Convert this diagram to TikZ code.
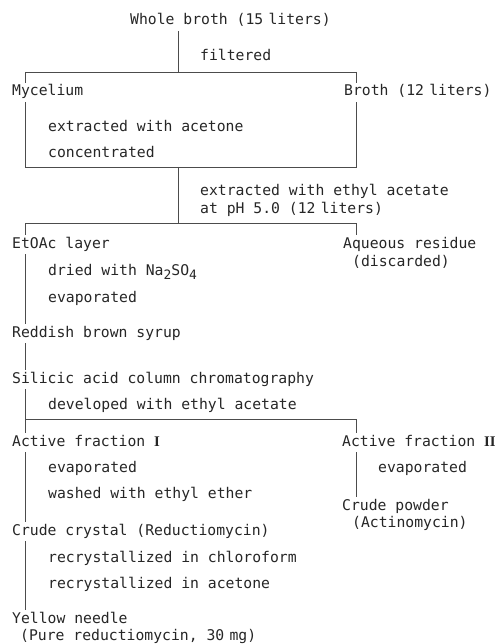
\documentclass[tikz,border=0pt]{standalone}
\usepackage{fontspec}
\setmonofont{DejaVu Sans Mono}
\newfontfamily\romfont{Liberation Serif}
\newcommand{\lowsub}[1]{\raisebox{-4bp}{\fontsize{13}{14}\selectfont #1}}
\newcommand{\romnum}[1]{{\romfont\bfseries #1}}
\tikzset{
  txt/.style={anchor=base west, inner xsep=0pt, inner ysep=2bp, text height=11bp, text depth=4bp,
    font=\ttfamily\fontsize{14.8}{16}\selectfont, text=black!85},
  conn/.style={draw=black!70, line width=0.7bp}
}
\begin{document}
\begin{tikzpicture}[x=1bp, y=-1bp]
\useasboundingbox (0,0) rectangle (500,644);
% spine coordinates
\coordinate (L) at (25,0);
\coordinate (R) at (356,0);
\coordinate (M) at (178,0);
\coordinate (h1) at (0,72);
\coordinate (b1) at (0,167);
\coordinate (h2) at (0,223);
\coordinate (h3) at (0,419);

\node[txt] (whole) at (130,25) {Whole broth (15\kern-0.25em{} liters)};
\node[txt] (filt) at (200,61) {filtered};
\node[txt] (myc) at (12,96) {Mycelium};
\node[txt] (broth) at (344,96) {Broth (12\kern-0.25em{} liters)};
\node[txt] (extac) at (48,132) {extracted with acetone};
\node[txt] (conc) at (48,158) {concentrated};
\node[txt] (exet) at (200,195) {extracted with ethyl acetate};
\node[txt] (ph) at (200,213) {at pH 5.0 (12\kern-0.25em{} liters)};
\node[txt] (etoac) at (12,248) {EtOAc layer};
\node[txt] (aq) at (343,248) {Aqueous residue};
\node[txt] (disc) at (352,266) {(discarded)};
\node[txt] (dried) at (48,275) {dried with Na\lowsub{2}SO\lowsub{4}};
\node[txt] (evapa) at (48,302) {evaporated};
\node[txt] (syrup) at (12,337) {Reddish brown syrup};
\node[txt] (sil) at (12,383) {Silicic acid column chromatography};
\node[txt] (dev) at (48,409) {developed with ethyl acetate};
\node[txt] (act1) at (12,446) {Active fraction \romnum{I}};
\node[txt] (act2) at (342,446) {Active fraction \romnum{II}};
\node[txt] (evapb) at (48,472) {evaporated};
\node[txt] (evapc) at (378,472) {evaporated};
\node[txt] (wash) at (48,498) {washed with ethyl ether};
\node[txt] (powder) at (342,510) {Crude powder};
\node[txt] (actino) at (352,527) {(Actinomycin)};
\node[txt] (cryst) at (12,535) {Crude crystal (Reductiomycin)};
\node[txt] (rechl) at (48,562) {recrystallized in chloroform};
\node[txt] (reac) at (48,588) {recrystallized in acetone};
\node[txt] (yellow) at (12,623) {Yellow needle};
\node[txt] (pure) at (20,640) {(Pure reductiomycin, 30\kern-0.25em{} mg)};

% connectors
\draw[conn] (whole.south -| M) -- (M |- h1);
\draw[conn] (L |- h1) -- (R |- h1);
\draw[conn] (L |- h1) -- (myc.north -| L);
\draw[conn] (R |- h1) -- (broth.north -| R);
\draw[conn] (myc.south -| L) -- (L |- b1) -- (R |- b1) -- (broth.south -| R);
\draw[conn] (M |- b1) -- (M |- h2);
\draw[conn] (L |- h2) -- (R |- h2);
\draw[conn] (L |- h2) -- (etoac.north -| L);
\draw[conn] (R |- h2) -- (aq.north -| R);
\draw[conn] (etoac.south -| L) -- (syrup.north -| L);
\draw[conn] (syrup.south -| L) -- (sil.north -| L);
\draw[conn] (sil.south -| L) -- (L |- h3);
\draw[conn] (L |- h3) -- (R |- h3);
\draw[conn] (L |- h3) -- (act1.north -| L);
\draw[conn] (R |- h3) -- (act2.north -| R);
\draw[conn] (act1.south -| L) -- (cryst.north -| L);
\draw[conn] (act2.south -| R) -- (powder.north -| R);
\draw[conn] (cryst.south -| L) -- (yellow.north -| L);
\end{tikzpicture}
\end{document}
